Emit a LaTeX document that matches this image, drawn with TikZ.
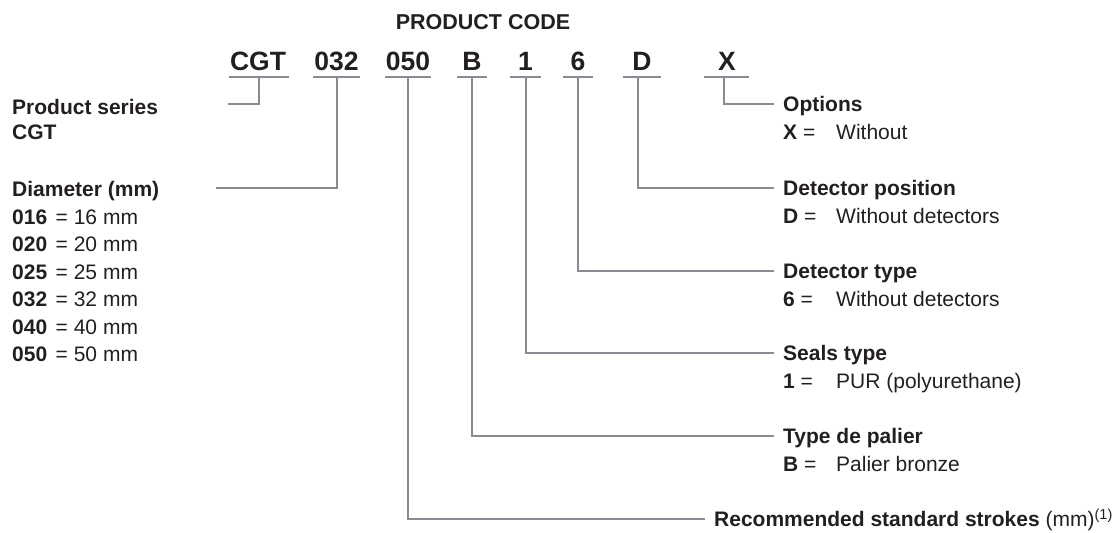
\documentclass[tikz,border=0pt]{standalone}
\usepackage{fontspec}
\setmainfont{Liberation Sans}
\definecolor{lncol}{RGB}{138,138,146}
\definecolor{txcol}{RGB}{35,31,32}
\begin{document}
\begin{tikzpicture}[x=1pt,y=-1pt,
  every node/.style={text=txcol, inner sep=0pt},
  lnk/.style={draw=lncol, line width=1.3pt},
  codetxt/.style={font=\fontsize{26.5}{30}\selectfont\bfseries, anchor=base},
  ttl/.style={font=\fontsize{21.5}{25}\selectfont\bfseries, anchor=base},
  hd/.style={font=\fontsize{21}{25}\selectfont\bfseries, anchor=west, text height=15pt, text depth=0pt},
  rhd/.style={hd, inner xsep=9pt},
  bd/.style={font=\fontsize{21}{25}\selectfont, anchor=base west},
]
\useasboundingbox (0,0) rectangle (1112,533);

% title
\node[ttl] (title) at (483,29.5) {PRODUCT CODE};

% code letters
\node[codetxt] (cCGT) at (258,70) {CGT};
\node[codetxt] (c032) at (336.5,70) {032};
\node[codetxt] (c050) at (408,70) {050};
\node[codetxt] (cB)   at (472,70) {B};
\node[codetxt] (c1)   at (525.5,70) {1};
\node[codetxt] (c6)   at (578,70) {6};
\node[codetxt] (cD)   at (642,70) {D};
\node[codetxt] (cX)   at (727,70) {X};

% underlines
\draw[lnk] (229,77) -- (289,77);
\draw[lnk] (313,77) -- (360,77);
\draw[lnk] (385,77) -- (431,77);
\draw[lnk] (457,77) -- (487,77);
\draw[lnk] (510,77) -- (541,77);
\draw[lnk] (563,77) -- (593,77);
\draw[lnk] (623,77) -- (661,77);
\draw[lnk] (704,77) -- (749,77);

% stem origins
\coordinate (uCGT) at (259,77);
\coordinate (u032) at (337,77);
\coordinate (u050) at (408,77);
\coordinate (uB)   at (472,77);
\coordinate (u1)   at (526,77);
\coordinate (u6)   at (578,77);
\coordinate (uD)   at (638,77);
\coordinate (uX)   at (724,77);

% left labels
\node[hd, anchor=west] (ps) at (12,107) {Product series};
\node[hd, anchor=west] (psv) at (12,132) {CGT};
\coordinate (eCGT) at (228,104);

\node[hd, anchor=west] (dia) at (12,189) {Diameter (mm)};
\coordinate (e032) at (216,188);
\node[bd] (d1) at (12,224.5) {\textbf{016}\hspace{8.5pt}= 16 mm};
\node[bd] (d2) at (12,251.9) {\textbf{020}\hspace{8.5pt}= 20 mm};
\node[bd] (d3) at (12,279.3) {\textbf{025}\hspace{8.5pt}= 25 mm};
\node[bd] (d4) at (12,306.7) {\textbf{032}\hspace{8.5pt}= 32 mm};
\node[bd] (d5) at (12,334.1) {\textbf{040}\hspace{8.5pt}= 40 mm};
\node[bd] (d6) at (12,361.5) {\textbf{050}\hspace{8.5pt}= 50 mm};

% right labels
\node[rhd] (opt) at (774,104) {Options};
\node[bd] (optk) at (783,139.5) {\textbf{X} =};
\node[bd] (optv) at (836,139.5) {Without};

\node[rhd] (dpos) at (774,188) {Detector position};
\node[bd] (dposk) at (783,223.5) {\textbf{D} =};
\node[bd] (dposv) at (836,223.5) {Without detectors};

\node[rhd] (dtyp) at (774,271) {Detector type};
\node[bd] (dtypk) at (783,306.5) {\textbf{6} =};
\node[bd] (dtypv) at (836,306.5) {Without detectors};

\node[rhd] (seal) at (774,353) {Seals type};
\node[bd] (sealk) at (783,388.5) {\textbf{1} =};
\node[bd] (sealv) at (836,388.5) {PUR (polyurethane)};

\node[rhd] (pal) at (774,436) {Type de palier};
\node[bd] (palk) at (783,471.5) {\textbf{B} =};
\node[bd] (palv) at (836,471.5) {Palier bronze};

\node[rhd] (str) at (705,519) {Recommended standard strokes {\mdseries (mm)\raisebox{7pt}{\fontsize{14.5}{16}\selectfont(1)}}};

% connectors
\draw[lnk] (uCGT) |- (eCGT);
\draw[lnk] (u032) |- (e032);
\draw[lnk] (uX) |- (opt.west);
\draw[lnk] (uD) |- (dpos.west);
\draw[lnk] (u6) |- (dtyp.west);
\draw[lnk] (u1) |- (seal.west);
\draw[lnk] (uB) |- (pal.west);
\draw[lnk] (u050) |- (str.west);
\end{tikzpicture}
\end{document}
